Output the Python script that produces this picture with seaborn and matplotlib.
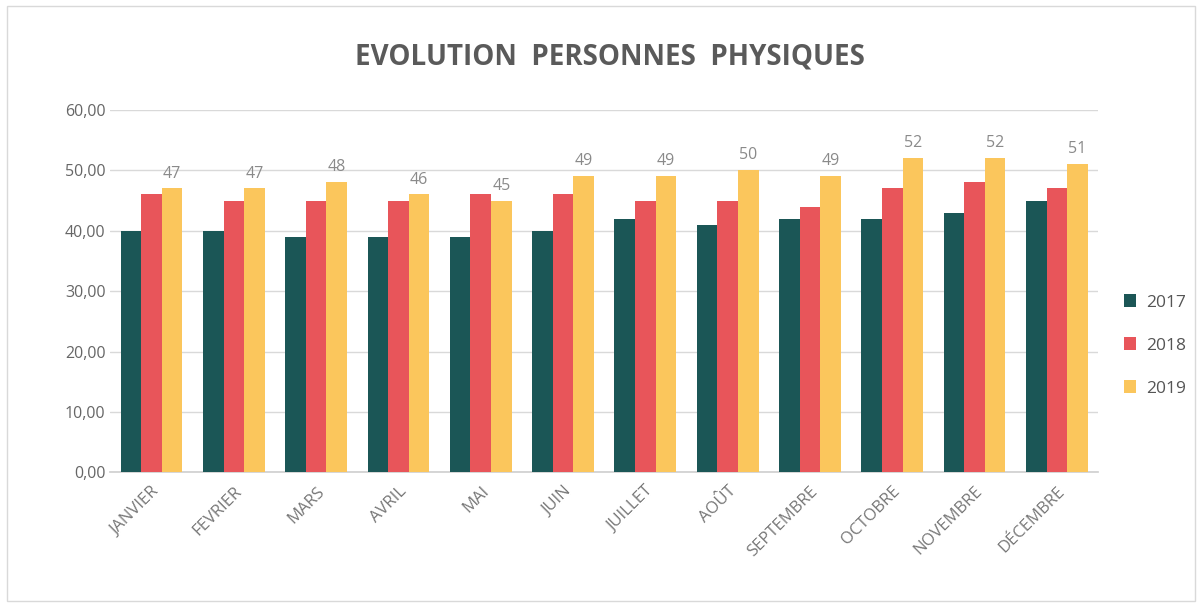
import matplotlib
matplotlib.use("Agg")
import matplotlib.pyplot as plt
import pandas as pd
import seaborn as sns
from matplotlib.patches import Rectangle

mois = ["JANVIER", "FEVRIER", "MARS", "AVRIL", "MAI", "JUIN", "JUILLET",
        "AOÛT", "SEPTEMBRE", "OCTOBRE", "NOVEMBRE", "DÉCEMBRE"]
v2017 = [40, 40, 39, 39, 39, 40, 42, 41, 42, 42, 43, 45]
v2018 = [46, 45, 45, 45, 46, 46, 45, 45, 44, 47, 48, 47]
v2019 = [47, 47, 48, 46, 45, 49, 49, 50, 49, 52, 52, 51]
annees = ["2017", "2018", "2019"]
couleurs = ["#1b5656", "#e8555a", "#fbc65c"]

df = pd.DataFrame({
    "mois": mois * 3,
    "annee": [a for a in annees for _ in mois],
    "valeur": v2017 + v2018 + v2019,
})

sns.set_theme(style="white")
plt.rcParams["font.family"] = ["Open Sans", "DejaVu Sans"]

fig = plt.figure(figsize=(12, 6.04), dpi=100)
ax = fig.add_axes([0.092, 0.218, 0.823, 0.6])

sns.barplot(data=df, x="mois", y="valeur", hue="annee", palette=couleurs,
            width=0.75, gap=0, saturation=1, linewidth=0, ax=ax, zorder=3)

# étiquettes seulement sur 2019
ax.bar_label(ax.containers[2], fmt="%d", padding=5, fontsize=11.5, color="#8a8a8a")

ax.set_ylim(0, 60)
ax.set_xlim(-0.5, len(mois) - 0.5)
ax.set_yticks(range(0, 61, 10))
ax.set_yticklabels([f"{t},00" for t in range(0, 61, 10)], fontsize=11.5, color="#666666")
ax.yaxis.grid(True, color="#d9d9d9", linewidth=1, zorder=0)
ax.set_axisbelow(True)
for s in ["top", "right", "left"]:
    ax.spines[s].set_visible(False)
ax.spines["bottom"].set_color("#d0d0d0")
ax.tick_params(axis="both", length=0)
ax.tick_params(axis="x", pad=8)
ax.set_xlabel("")
ax.set_ylabel("")
plt.setp(ax.get_xticklabels(), rotation=45, ha="right", rotation_mode="anchor",
         fontsize=12, color="#777777")

leg = ax.legend(loc="center left", bbox_to_anchor=(1.01, 0.35), frameon=False,
                fontsize=12.5, handlelength=0.7, handleheight=0.7, labelspacing=1.55,
                handletextpad=0.6)
for t in leg.get_texts():
    t.set_color("#555555")

fig.text(0.508, 0.906, "EVOLUTION  PERSONNES  PHYSIQUES", ha="center", va="center",
         fontsize=20, fontweight="bold", color="#5a5a5a")

fig.patches.append(Rectangle((0.006, 0.005), 0.99, 0.985, transform=fig.transFigure,
                             fill=False, edgecolor="#d9d9d9", linewidth=1))

fig.savefig("out.png", dpi=100)
